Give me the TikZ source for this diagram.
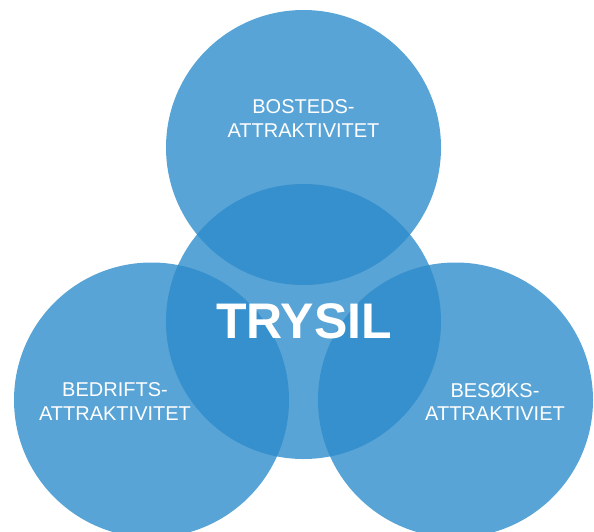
\documentclass[tikz,border=0pt]{standalone}
\usepackage{fontspec}
\setmainfont{Liberation Sans}
\definecolor{vlight}{RGB}{88,164,214}
\definecolor{vdark}{RGB}{53,144,205}
\begin{document}
\begin{tikzpicture}[x=1pt,y=-1pt,
  circ/.style={circle,inner sep=0pt,minimum size=275pt,fill=vlight,draw=none},
  lbl/.style={text=white,align=center,inner sep=0pt,font=\fontsize{20}{23.5}\selectfont},
  big/.style={text=white,inner sep=0pt,font=\fontsize{50}{55}\selectfont\bfseries}]
\useasboundingbox (0,0) rectangle (594,531);
\clip (0,0) rectangle (594,531);
\node[circ] (top) at (303.5,147.5) {};
\node[circ] (left) at (151.5,400) {};
\node[circ] (right) at (455.5,400) {};
\node[circ] (mid) at (303.5,321.5) {};
\begin{scope}
  \clip (mid.center) circle[radius=137.5pt];
  \fill[vdark] (top.center) circle[radius=137.5pt];
  \fill[vdark] (left.center) circle[radius=137.5pt];
  \fill[vdark] (right.center) circle[radius=137.5pt];
\end{scope}
\node[lbl] (bosteds) at (303.5,118.5) {BOSTEDS-\\ATTRAKTIVITET};
\node[lbl] (bedrifts) at (115,401.5) {BEDRIFTS-\\ATTRAKTIVITET};
\node[lbl] (besoks) at (495,402) {BESØKS-\\ATTRAKTIVIET};
\node[big] (trysil) at (304,321.5) {TRYSIL};
\end{tikzpicture}
\end{document}
